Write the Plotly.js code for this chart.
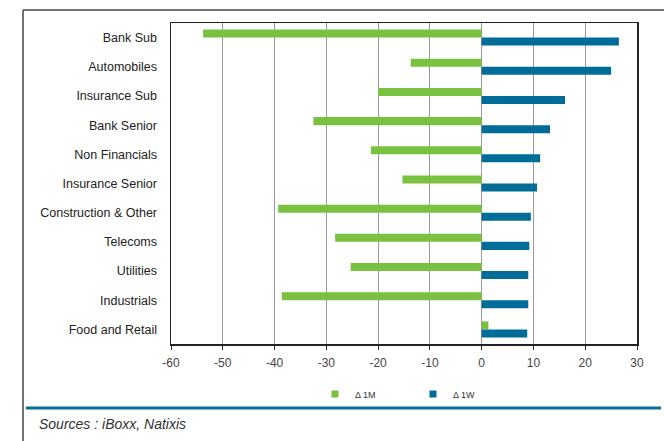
<!DOCTYPE html>
<html>
<head>
<meta charset="utf-8">
<script src="https://cdn.plot.ly/plotly-3.0.1.min.js"></script>
<style>
  html, body { margin: 0; padding: 0; background: #ffffff; }
  #chart { width: 664px; height: 441px; }
</style>
</head>
<body>
<div id="chart"></div>
<script>
const categories = ["Bank Sub", "Automobiles", "Insurance Sub", "Bank Senior", "Non Financials",
  "Insurance Senior", "Construction & Other", "Telecoms", "Utilities", "Industrials", "Food and Retail"];
const delta1M = [-53.8, -13.7, -20.0, -32.5, -21.4, -15.3, -39.3, -28.3, -25.3, -38.6, 1.3];
const delta1W = [26.5, 25.0, 16.1, 13.2, 11.3, 10.7, 9.5, 9.2, 9.0, 9.0, 8.8];
const seriesNames = ["Δ 1M", "Δ 1W"];
const xTicks = [-60, -50, -40, -30, -20, -10, 0, 10, 20, 30];

const green = "rgb(122,193,66)";
const blue = "rgb(0,108,152)";

// pixel helpers for decorations (plot area: x 171..637, y 23..344)
const L = 171, R = 637, T = 23, B = 344;
const px = v => (v - L) / (R - L);
const py = v => (B - v) / (B - T);

const traces = [
  { type: "bar", orientation: "h", name: seriesNames[0], y: categories, x: delta1M,
    marker: { color: green }, showlegend: false, hoverinfo: "x+y" },
  { type: "bar", orientation: "h", name: seriesNames[1], y: categories, x: delta1W,
    marker: { color: blue }, showlegend: false, hoverinfo: "x+y" },
  { type: "scatter", mode: "markers", name: seriesNames[0], x: [null], y: [null],
    marker: { color: green, symbol: "square", size: 7 }, showlegend: true, hoverinfo: "skip" },
  { type: "scatter", mode: "markers", name: seriesNames[1], x: [null], y: [null],
    marker: { color: blue, symbol: "square", size: 7 }, showlegend: true, hoverinfo: "skip" }
];

const layout = {
  width: 664, height: 441,
  margin: { l: L, r: 664 - R, t: T, b: 441 - B },
  paper_bgcolor: "#ffffff", plot_bgcolor: "#ffffff",
  font: { family: "Liberation Sans, Arial, sans-serif", color: "#222" },
  barmode: "group", bargap: 0.45, bargroupgap: 0,
  showlegend: true,
  legend: { orientation: "h", x: px(315), y: py(394), xanchor: "left", yanchor: "middle",
    font: { size: 9, color: "#333" }, entrywidth: 53, entrywidthmode: "pixels",
    itemwidth: 30, bgcolor: "rgba(0,0,0,0)", traceorder: "normal" },
  xaxis: {
    range: [-60, 30], tickvals: xTicks, ticktext: xTicks.map(String),
    showgrid: true, gridcolor: "#9a9a9a", gridwidth: 1,
    zeroline: false, showline: true, linecolor: "#222", linewidth: 1.5, mirror: true,
    ticks: "outside", ticklen: 4, tickcolor: "#222", tickwidth: 1, ticklabelstandoff: 3,
    tickfont: { size: 12, color: "#444" }, fixedrange: true
  },
  yaxis: {
    type: "category", categoryorder: "array", categoryarray: categories,
    range: [categories.length - 0.5, -0.5],
    showgrid: false, zeroline: false, showline: true, linecolor: "#222", linewidth: 1.5, mirror: true,
    ticks: "", ticklabelstandoff: 10,
    tickfont: { size: 12.5, color: "#222" }, fixedrange: true
  },
  yaxis2: {
    overlaying: "y", anchor: "free", position: 60 / 90, side: "left",
    range: [categories.length - 0.5, -0.5],
    tickvals: categories.map((c, i) => i), showticklabels: false,
    showgrid: false, zeroline: false, showline: true, linecolor: "#000", linewidth: 1,
    ticks: "outside", ticklen: 4, tickcolor: "#000", tickwidth: 1, fixedrange: true
  },
  shapes: [
    { type: "line", xref: "paper", yref: "paper", x0: px(23), x1: px(23), y0: py(10), y1: py(441),
      line: { color: "#444", width: 1.5 } },
    { type: "line", xref: "paper", yref: "paper", x0: px(23), x1: px(664), y0: py(10), y1: py(10),
      line: { color: "#444", width: 1.5 } },
    { type: "line", xref: "paper", yref: "paper", x0: px(26), x1: px(661), y0: py(408), y1: py(408),
      line: { color: "rgb(14,110,150)", width: 3 } }
  ],
  annotations: [
    { xref: "paper", yref: "paper", x: px(37), y: py(424), xanchor: "left", yanchor: "middle",
      text: "<i>Sources : iBoxx, Natixis</i>", showarrow: false,
      font: { size: 14, color: "#333", family: "Liberation Sans, Arial, sans-serif" } }
  ]
};

Plotly.newPlot("chart", traces, layout, { displayModeBar: false, staticPlot: true });
</script>
</body>
</html>
